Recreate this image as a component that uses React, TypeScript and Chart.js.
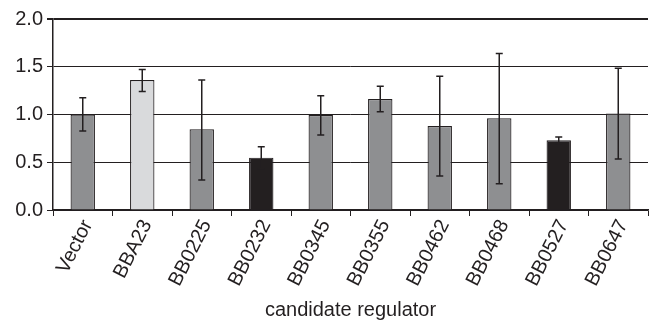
import React, { useEffect, useRef } from "react";
import { Chart, registerables } from "chart.js";

Chart.register(...registerables);

const categories = ["Vector", "BBA23", "BB0225", "BB0232", "BB0345", "BB0355", "BB0462", "BB0468", "BB0527", "BB0647"];
const values = [1.0, 1.36, 0.845, 0.548, 0.995, 1.162, 0.88, 0.96, 0.73, 1.01];
const errHigh = [1.176, 1.47, 1.36, 0.663, 1.197, 1.295, 1.40, 1.64, 0.764, 1.484];
const errLow = [0.827, 1.24, 0.314, 0.433, 0.785, 1.03, 0.356, 0.275, 0.696, 0.534];
const barColors = ["#8e8f91", "#d9dadc", "#8e8f91", "#231f20", "#8e8f91", "#8e8f91", "#8e8f91", "#8e8f91", "#231f20", "#8e8f91"];
const yTicks = [0, 0.5, 1.0, 1.5, 2.0];

const INK = "#231f20";
const FONT = "'Liberation Sans', Arial, Helvetica, sans-serif";

const errorBarPlugin = {
  id: "errorBars",
  afterDatasetsDraw(chart: any) {
    const ctx = chart.ctx;
    const meta = chart.getDatasetMeta(0);
    const y = chart.scales.y;
    ctx.save();
    ctx.strokeStyle = INK;
    ctx.lineWidth = 1.5;
    meta.data.forEach((bar: any, i: number) => {
      const x = bar.x;
      const yh = y.getPixelForValue(errHigh[i]);
      const yl = y.getPixelForValue(errLow[i]);
      const cap = 3.5;
      ctx.beginPath();
      ctx.moveTo(x, yh);
      ctx.lineTo(x, yl);
      ctx.moveTo(x - cap, yh);
      ctx.lineTo(x + cap, yh);
      ctx.moveTo(x - cap, yl);
      ctx.lineTo(x + cap, yl);
      ctx.stroke();
    });
    ctx.restore();
  },
};

export default function App() {
  const ref = useRef<HTMLCanvasElement>(null);
  useEffect(() => {
    document.body.style.margin = "0";
    const chart = new Chart(ref.current!, {
      type: "bar",
      data: {
        labels: categories,
        datasets: [
          {
            data: values,
            backgroundColor: barColors,
            borderColor: INK,
            borderWidth: 1.2,
            barPercentage: 0.41,
            categoryPercentage: 1,
          },
        ],
      },
      options: {
        responsive: false,
        animation: false,
        layout: { padding: { top: 19, right: 1, left: 0, bottom: 0 } },
        plugins: { legend: { display: false }, tooltip: { enabled: false } },
        scales: {
          x: {
            afterFit(scale: any) {
              scale.height = 118;
            },
            grid: { display: true, drawOnChartArea: false, drawTicks: true, tickLength: 6, color: INK, lineWidth: 1, offset: true },
            border: { display: true, color: INK, width: 1.5 },
            ticks: {
              color: INK,
              font: { family: FONT, size: 20 },
              minRotation: 63,
              maxRotation: 63,
              padding: 0,
              labelOffset: 5,
              autoSkip: false,
            },
            title: {
              display: true,
              text: "candidate regulator",
              color: INK,
              font: { family: FONT, size: 20 },
              padding: { top: 0, bottom: 6 },
            },
          },
          y: {
            min: 0,
            max: 2,
            afterFit(scale: any) {
              scale.width = 53;
            },
            afterBuildTicks(scale: any) {
              scale.ticks = yTicks.map((v) => ({ value: v }));
            },
            grid: {
              color: INK,
              lineWidth: (c: any) => (c.tick && c.tick.value === 2 ? 2 : 1),
              tickLength: 6,
              drawTicks: true,
            },
            border: { display: true, color: INK, width: 1.5 },
            ticks: {
              color: INK,
              font: { family: FONT, size: 20 },
              padding: 4,
              callback: (v: any) => Number(v).toFixed(1),
            },
          },
        },
      },
      plugins: [errorBarPlugin],
    });
    return () => chart.destroy();
  }, []);
  return <canvas ref={ref} width={649} height={328} />;
}
